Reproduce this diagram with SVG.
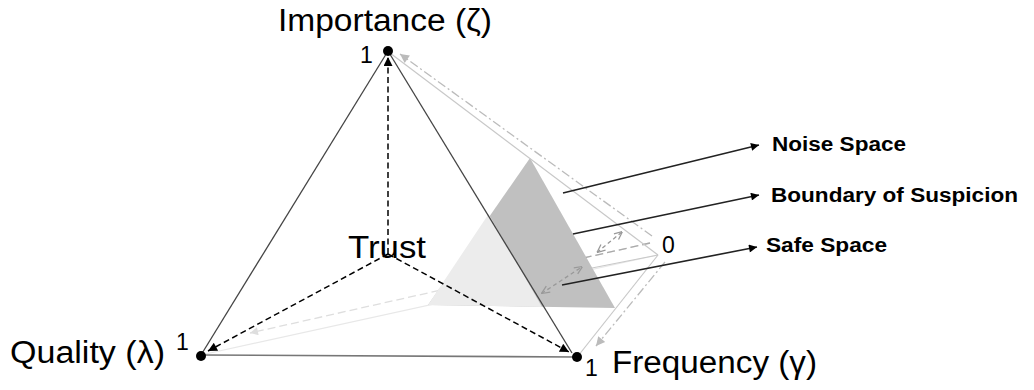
<svg xmlns="http://www.w3.org/2000/svg" width="1034" height="390" viewBox="0 0 1034 390">
<style>
.lbl{font-family:"Liberation Sans",Arial,sans-serif;fill:#000}
.big{font-size:31px}
.num{font-size:23px}
.bold{font-size:20px;font-weight:bold}
.edge{stroke:#444;stroke-width:1.3;fill:none}
.dash{stroke:#000;stroke-width:1.5;stroke-dasharray:6 3.5;fill:none}
.lead{stroke:#222;stroke-width:1.6;fill:none}
.ghost{stroke:#c8c8c8;stroke-width:1.2;fill:none}
.dd{stroke:#bbb;stroke-width:1.3;stroke-dasharray:9 3 2 3;fill:none}
.gdash{stroke:#999;stroke-width:1.3;stroke-dasharray:4 3;fill:none}
</style>
<defs>
<marker id="blk" viewBox="0 0 10 10" refX="10" refY="5" markerWidth="10" markerHeight="9" markerUnits="userSpaceOnUse" orient="auto"><path d="M0,0 L10,5 L0,10 z" fill="#000"/></marker>
<marker id="lead" viewBox="0 0 10 10" refX="10" refY="5" markerWidth="12" markerHeight="8" markerUnits="userSpaceOnUse" orient="auto"><path d="M0,0 L10,5 L0,10 z" fill="#000"/></marker>
<marker id="lg" viewBox="0 0 10 10" refX="10" refY="5" markerWidth="13" markerHeight="9" markerUnits="userSpaceOnUse" orient="auto"><path d="M0,0 L10,5 L0,10 z" fill="#bbb"/></marker>
<marker id="vlg" viewBox="0 0 10 10" refX="10" refY="5" markerWidth="13" markerHeight="8" markerUnits="userSpaceOnUse" orient="auto"><path d="M0,0 L10,5 L0,10 z" fill="#dedede"/></marker>
<marker id="chev" viewBox="0 0 10 10" refX="10" refY="5" markerWidth="9" markerHeight="9" markerUnits="userSpaceOnUse" orient="auto-start-reverse"><path d="M1,1 L10,5 L1,9" fill="none" stroke="#999" stroke-width="1.4"/></marker>
</defs>
<rect width="1034" height="390" fill="#fff"/>

<g id="background-lines">
<line x1="201" y1="355" x2="658" y2="255" stroke="#e8e8e8" stroke-width="1.2"/>
<line x1="650" y1="243" x2="250" y2="333" stroke="#dedede" stroke-width="1.3" stroke-dasharray="8 4" marker-end="url(#vlg)"/>
</g>

<g id="regions">
<polygon id="boundary-region" points="530,158 615,308 428,305" fill="#c0c0c0"/>
<polygon id="safe-region" points="488.6,213.9 428,305 542,306.9" fill="#ececec"/>
</g>

<g id="connectors">
<line x1="658" y1="255" x2="592" y2="268" stroke="#c8c8c8" stroke-width="1.2"/>
<line x1="650" y1="243" x2="586" y2="257.4" stroke="#aaa" stroke-width="1.3" stroke-dasharray="8 4"/>
<line class="ghost" x1="390" y1="53" x2="658" y2="255"/>
<line class="ghost" x1="658" y1="255" x2="578" y2="356"/>
<line class="dd" x1="652" y1="236" x2="400" y2="54" marker-end="url(#lg)"/>
<line class="dd" x1="665" y1="262" x2="596" y2="346" marker-end="url(#lg)"/>
<line class="edge" x1="388" y1="51" x2="201" y2="355"/>
<line class="edge" x1="388" y1="51" x2="572" y2="353"/>
<line x1="201" y1="355" x2="577" y2="357" stroke="#777" stroke-width="1.6"/>
<line class="dash" x1="388" y1="254" x2="388" y2="57" marker-end="url(#blk)"/>
<line class="dash" x1="388" y1="254" x2="208" y2="351" marker-end="url(#blk)"/>
<line class="dash" x1="388" y1="254" x2="569" y2="352" marker-end="url(#blk)"/>
<line class="gdash" x1="597" y1="252.5" x2="622.5" y2="231.5" marker-start="url(#chev)" marker-end="url(#chev)"/>
<line class="gdash" x1="541.5" y1="293.5" x2="582.5" y2="266.5" marker-start="url(#chev)" marker-end="url(#chev)"/>
<line class="lead" x1="563" y1="193" x2="759" y2="145" marker-end="url(#lead)"/>
<line class="lead" x1="573" y1="234" x2="759" y2="195" marker-end="url(#lead)"/>
<line class="lead" x1="562" y1="285" x2="757" y2="247" marker-end="url(#lead)"/>
</g>

<g id="importance">
<circle cx="388" cy="51" r="5" fill="#000"/>
<text class="lbl num" x="360" y="63">1</text>
<text class="lbl big" x="278" y="31" textLength="214" lengthAdjust="spacingAndGlyphs">Importance (ζ)</text>
</g>
<g id="quality">
<circle cx="201" cy="356" r="5" fill="#000"/>
<text class="lbl num" x="176" y="350">1</text>
<text class="lbl big" x="10" y="363" textLength="155" lengthAdjust="spacingAndGlyphs">Quality (λ)</text>
</g>
<g id="frequency">
<circle cx="577" cy="357" r="5" fill="#000"/>
<text class="lbl num" x="585" y="376">1</text>
<text class="lbl big" x="612" y="373" textLength="205" lengthAdjust="spacingAndGlyphs">Frequency (γ)</text>
</g>
<g id="trust">
<text class="lbl" x="348" y="258" font-size="31" textLength="78" lengthAdjust="spacingAndGlyphs">Trust</text>
</g>
<g id="origin">
<text class="lbl num" x="662" y="253">0</text>
</g>
<g id="noise-space">
<text class="lbl bold" x="772" y="151" textLength="134" lengthAdjust="spacingAndGlyphs">Noise Space</text>
</g>
<g id="boundary-of-suspicion">
<text class="lbl bold" x="771" y="202" textLength="247" lengthAdjust="spacingAndGlyphs">Boundary of Suspicion</text>
</g>
<g id="safe-space">
<text class="lbl bold" x="766" y="252" textLength="121" lengthAdjust="spacingAndGlyphs">Safe Space</text>
</g>
</svg>
